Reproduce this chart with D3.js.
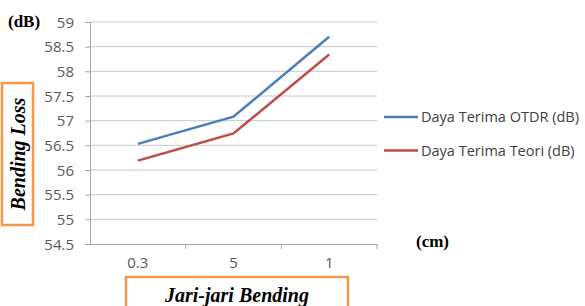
<!DOCTYPE html>
<html>
<head>
<meta charset="utf-8">
<script src="https://cdn.jsdelivr.net/npm/d3@7.8.5/dist/d3.min.js"></script>
<style>
  body { margin: 0; background: #fff; }
  svg { display: block; }
  .tick text { font-family: "Open Sans", "Liberation Sans", sans-serif; font-size: 15px; fill: #595959; }
  .serif { font-family: "Liberation Serif", "DejaVu Serif", serif; font-weight: bold; }
</style>
</head>
<body>
<div id="chart"></div>
<script>
const categories = ['0.3', '5', '1'];
const otdr = [56.53, 57.08, 58.70];
const teori = [56.19, 56.74, 58.34];
const yTicks = [54.5, 55, 55.5, 56, 56.5, 57, 57.5, 58, 58.5, 59];
const seriesNames = ['Daya Terima OTDR (dB)', 'Daya Terima Teori (dB)'];
const seriesColors = ['#4a7ebb', '#be4b48'];

const width = 585, height = 306;
const plot = { left: 90, right: 377, top: 22, bottom: 244 };

const svg = d3.select('#chart').append('svg')
  .attr('width', width)
  .attr('height', height);

const x = d3.scaleBand()
  .domain(categories)
  .range([plot.left, plot.right]);

const y = d3.scaleLinear()
  .domain([54.5, 59])
  .range([plot.bottom, plot.top]);

// gridlines
svg.append('g')
  .selectAll('line')
  .data(yTicks.slice(1))
  .enter()
  .append('line')
  .attr('x1', plot.left)
  .attr('x2', plot.right)
  .attr('y1', d => y(d))
  .attr('y2', d => y(d))
  .attr('stroke', '#c8c8c8')
  .attr('stroke-width', 1);

// y axis
const yAxis = svg.append('g')
  .attr('transform', `translate(${plot.left},0)`)
  .call(d3.axisLeft(y).tickValues(yTicks).tickFormat(d => d).tickSize(5).tickPadding(11));
yAxis.select('.domain').attr('stroke', '#a6a6a6');
yAxis.selectAll('.tick line').attr('stroke', '#a6a6a6');
yAxis.selectAll('.tick text').attr('dy', '0.35em');

// x axis
const xAxis = svg.append('g')
  .attr('transform', `translate(0,${plot.bottom})`)
  .call(d3.axisBottom(x).tickSize(0).tickPadding(13));
xAxis.select('.domain').attr('stroke', '#a6a6a6');

// category dividers on x axis
svg.append('g')
  .selectAll('line')
  .data(categories)
  .enter()
  .append('line')
  .attr('x1', d => x(d) + x.bandwidth())
  .attr('x2', d => x(d) + x.bandwidth())
  .attr('y1', plot.bottom)
  .attr('y2', plot.bottom + 5)
  .attr('stroke', '#a6a6a6');

// lines
const line = d3.line()
  .x((d, i) => x(categories[i]) + x.bandwidth() / 2)
  .y(d => y(d));

[otdr, teori].forEach((vals, i) => {
  svg.append('path')
    .datum(vals)
    .attr('d', line)
    .attr('fill', 'none')
    .attr('stroke', seriesColors[i])
    .attr('stroke-width', 2.5);
});

// legend
const legend = svg.append('g');
seriesNames.forEach((name, i) => {
  const ly = 117 + i * 33.5;
  legend.append('line')
    .attr('x1', 384).attr('x2', 418)
    .attr('y1', ly).attr('y2', ly)
    .attr('stroke', seriesColors[i])
    .attr('stroke-width', 2.5);
  legend.append('text')
    .attr('x', 421).attr('y', ly)
    .attr('dy', '0.35em')
    .style('font-family', '"Open Sans", "Liberation Sans", sans-serif')
    .style('font-size', '14.5px')
    .attr('fill', '#404040')
    .text(name);
});

// unit labels
svg.append('text')
  .attr('class', 'serif')
  .attr('x', 8).attr('y', 27)
  .style('font-size', '17px')
  .text('(dB)');

svg.append('text')
  .attr('class', 'serif')
  .attr('x', 416).attr('y', 247)
  .style('font-size', '17px')
  .text('(cm)');

// axis title boxes
svg.append('rect')
  .attr('x', 2).attr('y', 83)
  .attr('width', 31).attr('height', 142)
  .attr('fill', 'none')
  .attr('stroke', '#f79646')
  .attr('stroke-width', 2.5);

svg.append('text')
  .attr('class', 'serif')
  .attr('transform', 'translate(25,154) rotate(-90)')
  .attr('text-anchor', 'middle')
  .style('font-size', '20px')
  .style('font-style', 'italic')
  .text('Bending Loss');

svg.append('rect')
  .attr('x', 126).attr('y', 277)
  .attr('width', 222).attr('height', 40)
  .attr('fill', 'none')
  .attr('stroke', '#f79646')
  .attr('stroke-width', 2.5);

svg.append('text')
  .attr('class', 'serif')
  .attr('x', 237).attr('y', 302)
  .attr('text-anchor', 'middle')
  .style('font-size', '20px')
  .style('font-style', 'italic')
  .text('Jari-jari Bending');
</script>
</body>
</html>
